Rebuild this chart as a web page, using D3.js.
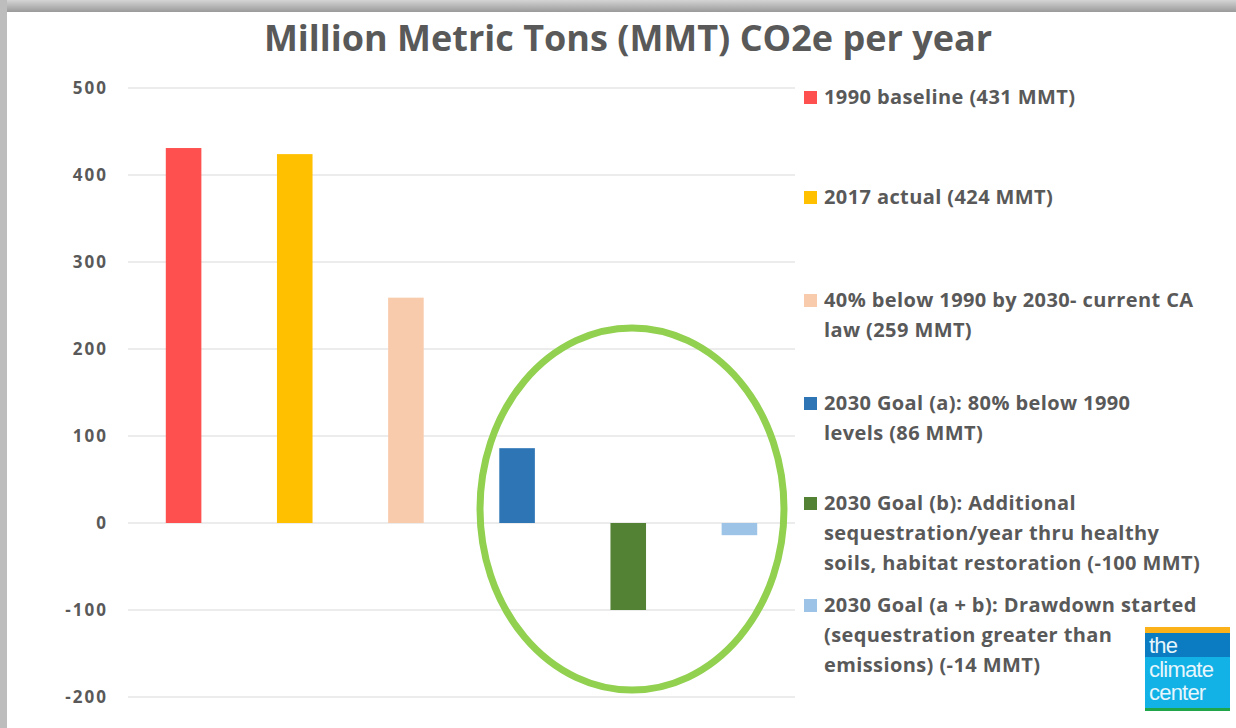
<!DOCTYPE html>
<html>
<head>
<meta charset="utf-8">
<script src="https://cdn.jsdelivr.net/npm/d3@7"></script>
<style>
  body { margin: 0; background: #fff; }
  text { font-family: "Open Sans", Lato, sans-serif; font-weight: bold; fill: #595959; }
</style>
</head>
<body>
<svg id="chart"></svg>
<script>
// Canvas size
const width = 1236;
const height = 728;

// Chart data
const categories = ["1990", "2017", "2030 law", "Goal a", "Goal b", "Goal a+b"];
const values = [431, 424, 259, 86, -100, -14];
const colors = ["#FF5050", "#FFC000", "#F8CBAD", "#2E75B6", "#548235", "#9DC3E6"];
const legendLines = [
    ["1990 baseline (431 MMT)"],
    ["2017 actual (424 MMT)"],
    ["40% below 1990 by 2030- current CA", "law (259 MMT)"],
    ["2030 Goal (a): 80% below 1990", "levels (86 MMT)"],
    ["2030 Goal (b): Additional", "sequestration/year thru healthy", "soils, habitat restoration (-100 MMT)"],
    ["2030 Goal (a + b): Drawdown started", "(sequestration greater than", "emissions) (-14 MMT)"]
];
const yTicks = [-200, -100, 0, 100, 200, 300, 400, 500];

const svg = d3.select("#chart")
    .attr("width", width)
    .attr("height", height);

// Slide frame shadow
const frame = svg.append("defs").append("linearGradient")
    .attr("id", "topShade").attr("x1", 0).attr("y1", 0).attr("x2", 0).attr("y2", 1);
frame.append("stop").attr("offset", "0%").attr("stop-color", "#d4d4d4");
frame.append("stop").attr("offset", "100%").attr("stop-color", "#9a9a9a");
svg.append("rect").attr("x", 0).attr("y", 0).attr("width", width).attr("height", 12)
    .attr("fill", "url(#topShade)");
svg.append("rect").attr("x", 0).attr("y", 0).attr("width", 7).attr("height", height)
    .attr("fill", "#bdbdbd");

// Title
svg.append("text")
    .attr("x", 628)
    .attr("y", 51)
    .attr("text-anchor", "middle")
    .style("font-size", "36px")
    .text("Million Metric Tons (MMT) CO2e per year");

// Scales
const x = d3.scaleBand()
    .domain(categories)
    .range([128, 795])
    .paddingInner(0.68)
    .paddingOuter(0.34);

const y = d3.scaleLinear()
    .domain([-200, 500])
    .range([697, 88]);

// Gridlines
svg.append("g")
    .selectAll("line")
    .data(yTicks)
    .join("line")
    .attr("x1", 128)
    .attr("x2", 795)
    .attr("y1", d => y(d))
    .attr("y2", d => y(d))
    .attr("stroke", "#d9d9d9")
    .attr("stroke-width", 1);

// Y axis labels (plain hyphen for negatives, as in the original)
const yAxis = svg.append("g")
    .attr("transform", "translate(114,0)")
    .call(d3.axisLeft(y).tickValues(yTicks).tickSize(0).tickPadding(6)
        .tickFormat(d => String(d)));
yAxis.select(".domain").remove();
yAxis.selectAll("text")
    .style("font-size", "17px")
    .style("font-family", "'Open Sans', sans-serif")
    .style("font-weight", "bold")
    .style("letter-spacing", "2px")
    .attr("fill", "#595959");

// Bars
svg.append("g")
    .selectAll("rect")
    .data(values)
    .join("rect")
    .attr("x", (d, i) => x(categories[i]))
    .attr("width", x.bandwidth())
    .attr("y", d => y(Math.max(0, d)))
    .attr("height", d => Math.abs(y(d) - y(0)))
    .attr("fill", (d, i) => colors[i]);

// Highlight ellipse
svg.append("ellipse")
    .attr("cx", 632)
    .attr("cy", 509)
    .attr("rx", 152)
    .attr("ry", 181)
    .attr("fill", "none")
    .attr("stroke", "#92D050")
    .attr("stroke-width", 7);

// Legend
const legendTop = [97, 197, 300, 403, 503, 605];
const legend = svg.append("g");
legendLines.forEach((lines, i) => {
    legend.append("rect")
        .attr("x", 804)
        .attr("y", legendTop[i] - 6)
        .attr("width", 13)
        .attr("height", 13)
        .attr("fill", colors[i]);
    legend.append("text")
        .attr("x", 824)
        .attr("y", legendTop[i] + 7)
        .style("font-size", "20px")
        .style("letter-spacing", "0.4px")
        .selectAll("tspan")
        .data(lines)
        .join("tspan")
        .attr("x", 824)
        .attr("dy", (d, j) => j === 0 ? 0 : 30)
        .text(d => d);
});

// Logo
const logo = svg.append("g").attr("transform", "translate(1145,627)");
logo.append("rect").attr("width", 85).attr("height", 84).attr("fill", "#12B1E6");
logo.append("rect").attr("width", 85).attr("height", 6).attr("fill", "#FBB21A");
logo.append("rect").attr("y", 6).attr("width", 85).attr("height", 24).attr("fill", "#0B7CC1");
logo.append("rect").attr("y", 81).attr("width", 85).attr("height", 3).attr("fill", "#1FA64A");
["the", "climate", "center"].forEach((w, i) => {
    logo.append("text")
        .attr("x", 4)
        .attr("y", 26 + i * 23.5)
        .style("font-family", "'Liberation Sans', Arial, sans-serif")
        .style("font-weight", "normal")
        .style("font-size", "22px")
        .style("fill", "#e6f6fc")
        .style("letter-spacing", "-0.8px")
        .text(w);
});
</script>
</body>
</html>
